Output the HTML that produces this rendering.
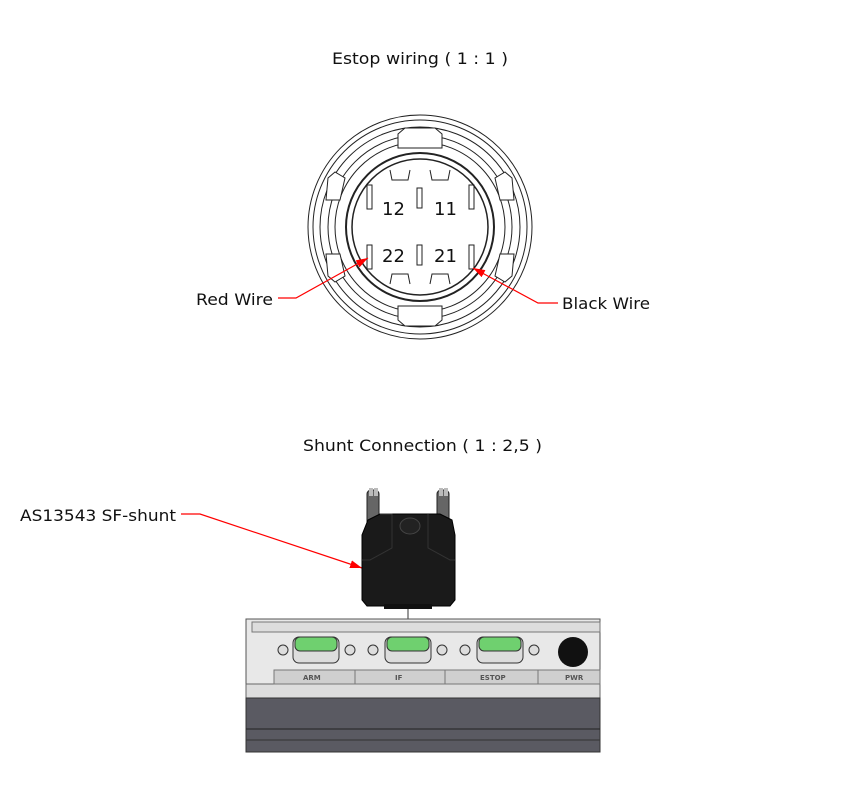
<!DOCTYPE html>
<html><head><meta charset="utf-8"><style>
html,body{margin:0;padding:0;background:#fff;width:852px;height:790px;overflow:hidden}
svg{display:block}
text{font-family:"DejaVu Sans","Liberation Sans",sans-serif;fill:#111}
</style></head><body>
<svg width="852" height="790" viewBox="0 0 852 790" xmlns="http://www.w3.org/2000/svg">
<defs>
<marker id="ar" markerWidth="12" markerHeight="8" refX="12" refY="4" orient="auto" markerUnits="userSpaceOnUse">
<path d="M0,0 L12,4 L0,8 Z" fill="#f00"/></marker>
</defs>
<text x="332" y="64" style="font-size:16px" textLength="176" lengthAdjust="spacingAndGlyphs">Estop wiring ( 1 : 1 )</text>

<g fill="none" stroke="#222" stroke-width="1">
<circle cx="420" cy="227" r="112"/>
<circle cx="420" cy="227" r="107"/>
<circle cx="420" cy="227" r="100"/>
<circle cx="420" cy="227" r="92"/>
<circle cx="420" cy="227" r="85"/>
<circle cx="420" cy="227" r="74" stroke-width="2"/>
<circle cx="420" cy="227" r="68" stroke-width="1.5"/>
<path d="M398,134 L405,128 L435,128 L442,134 L442,148 L398,148 Z" fill="#fff"/>
<path d="M398,320 L405,326 L435,326 L442,320 L442,306 L398,306 Z" fill="#fff"/>
<path d="M335,172 L328,178 L326,200 L340,200 L345,178 Z" fill="#fff"/>
<path d="M505,172 L512,178 L514,200 L500,200 L495,178 Z" fill="#fff"/>
<path d="M335,282 L328,276 L326,254 L340,254 L345,276 Z" fill="#fff"/>
<path d="M505,282 L512,276 L514,254 L500,254 L495,276 Z" fill="#fff"/>
<path d="M390,170 L392,180 L408,180 L410,170"/>
<path d="M430,170 L432,180 L448,180 L450,170"/>
<path d="M390,284 L392,274 L408,274 L410,284"/>
<path d="M430,284 L432,274 L448,274 L450,284"/>
<rect x="417" y="188" width="5" height="20"/>
<rect x="417" y="245" width="5" height="20"/>
<rect x="367" y="185" width="5" height="24"/>
<rect x="469" y="185" width="5" height="24"/>
<rect x="367" y="245" width="5" height="24"/>
<rect x="469" y="245" width="5" height="24"/>
</g>
<text x="382" y="215" style="font-size:18px">12</text>
<text x="434" y="215" style="font-size:18px">11</text>
<text x="382" y="262" style="font-size:18px">22</text>
<text x="434" y="262" style="font-size:18px">21</text>

<g stroke="#f00" stroke-width="1.2" fill="none">
<polyline points="278,298 296,298 368,258" marker-end="url(#ar)"/>
<polyline points="558,303 538,303 473,268" marker-end="url(#ar)"/>
<polyline points="181,514 200,514 362,568" marker-end="url(#ar)"/>
</g>
<text x="196" y="305" style="font-size:16px" textLength="77" lengthAdjust="spacingAndGlyphs">Red Wire</text>
<text x="562" y="309" style="font-size:16px" textLength="88" lengthAdjust="spacingAndGlyphs">Black Wire</text>

<text x="303" y="451" style="font-size:16px" textLength="239" lengthAdjust="spacingAndGlyphs">Shunt Connection ( 1 : 2,5 )</text>
<text x="20" y="521" style="font-size:16px" textLength="156" lengthAdjust="spacingAndGlyphs">AS13543 SF-shunt</text>

<g>
<rect x="367" y="490" width="12" height="40" rx="4" fill="#666" stroke="#222"/>
<rect x="437" y="490" width="12" height="40" rx="4" fill="#666" stroke="#222"/>
<rect x="369" y="488" width="4" height="8" fill="#bbb"/><rect x="374" y="488" width="4" height="8" fill="#bbb"/>
<rect x="439" y="488" width="4" height="8" fill="#bbb"/><rect x="444" y="488" width="4" height="8" fill="#bbb"/>
<path d="M368,520 L380,514 L440,514 L452,520 L455,535 L455,600 L450,606 L367,606 L362,600 L362,535 Z" fill="#1a1a1a" stroke="#000"/>
<path d="M380,514 L392,514 L392,548 L370,560 L362,560" fill="none" stroke="#333"/>
<path d="M428,514 L428,548 L450,560 L455,560" fill="none" stroke="#333"/>
<ellipse cx="410" cy="526" rx="10" ry="8" fill="#222" stroke="#444"/>
<rect x="384" y="604" width="48" height="5" fill="#111"/>
<line x1="408" y1="609" x2="408" y2="620" stroke="#333"/>
</g>

<g>
<rect x="246" y="619" width="354" height="80" fill="#e8e8e8" stroke="#555"/>
<rect x="252" y="622" width="348" height="10" fill="#ddd" stroke="#777"/>
<rect x="246" y="684" width="354" height="14" fill="#ddd" stroke="#666"/>
<rect x="274" y="670" width="326" height="14" fill="#cfcfcf" stroke="#777"/>
<line x1="355" y1="670" x2="355" y2="684" stroke="#777"/>
<line x1="445" y1="670" x2="445" y2="684" stroke="#777"/>
<line x1="538" y1="670" x2="538" y2="684" stroke="#777"/>
<text x="303" y="680" style="font-size:7px;font-weight:bold;fill:#555">ARM</text>
<text x="395" y="680" style="font-size:7px;font-weight:bold;fill:#555">IF</text>
<text x="480" y="680" style="font-size:7px;font-weight:bold;fill:#555">ESTOP</text>
<text x="565" y="680" style="font-size:7px;font-weight:bold;fill:#555">PWR</text>
<g stroke="#333" stroke-width="1">
<rect x="293" y="637" width="46" height="26" rx="6" fill="#ddd"/>
<rect x="295" y="637" width="42" height="14" rx="5" fill="#6fd06f"/>
<rect x="385" y="637" width="46" height="26" rx="6" fill="#ddd"/>
<rect x="387" y="637" width="42" height="14" rx="5" fill="#6fd06f"/>
<rect x="477" y="637" width="46" height="26" rx="6" fill="#ddd"/>
<rect x="479" y="637" width="42" height="14" rx="5" fill="#6fd06f"/>
<g fill="#ddd">
<circle cx="283" cy="650" r="5"/><circle cx="350" cy="650" r="5"/><circle cx="373" cy="650" r="5"/>
<circle cx="442" cy="650" r="5"/><circle cx="465" cy="650" r="5"/><circle cx="534" cy="650" r="5"/>
</g>
</g>
<circle cx="573" cy="652" r="15" fill="#111"/>
<rect x="246" y="698" width="354" height="54" fill="#5a5a62" stroke="#333"/>
<line x1="246" y1="729" x2="600" y2="729" stroke="#222"/>
<line x1="246" y1="740" x2="600" y2="740" stroke="#333"/>
</g>
</svg>
</body></html>
